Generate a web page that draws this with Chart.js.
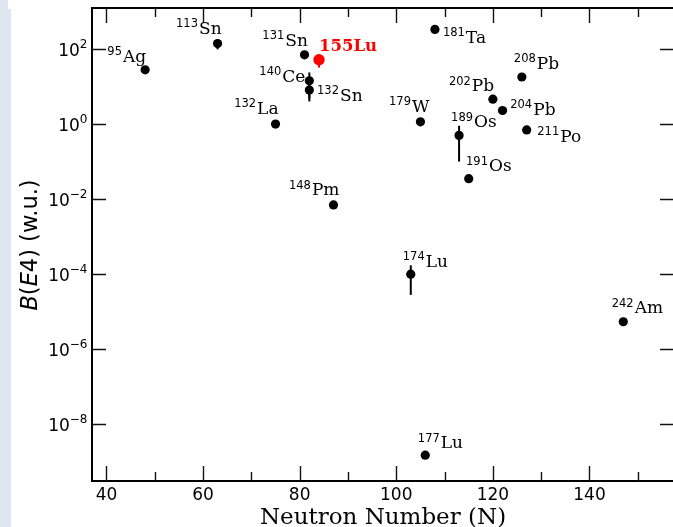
<!DOCTYPE html>
<html>
<head>
<meta charset="utf-8">
<script src="https://cdn.jsdelivr.net/npm/chart.js@4/dist/chart.umd.min.js"></script>
<style>
  html, body { margin: 0; padding: 0; background: #fff; overflow: hidden; }
  #wrap { position: relative; width: 680px; height: 527px; }
</style>
</head>
<body>
<div id="wrap"><canvas id="c" width="680" height="527" style="width:680px;height:527px"></canvas></div>
<script>
// B(E4) values (w.u.) vs neutron number
const neutrons    = [48, 63, 81, 82, 82, 75, 105, 108, 126, 120, 122, 127, 113, 115, 87, 103, 147, 106];
const massNumbers = [95, 113, 131, 140, 132, 132, 179, 181, 208, 202, 204, 211, 189, 191, 148, 174, 242, 177];
const elements    = ['Ag', 'Sn', 'Sn', 'Ce', 'Sn', 'La', 'W', 'Ta', 'Pb', 'Pb', 'Pb', 'Po', 'Os', 'Os', 'Pm', 'Lu', 'Am', 'Lu'];
const bE4         = [28, 140, 70, 14.3, 8.1, 1.0, 1.15, 333, 18, 4.6, 2.3, 0.70, 0.50, 0.035, 0.0070, 1.0e-4, 5.4e-6, 1.5e-9];
const bE4Err      = [0, 42, 0, 9.5, 4.1, 0, 0, 0, 0, 0, 0, 0, 0.4, 0, 0, 0.72e-4, 0, 0];

// this work
const newN     = [84];
const newB     = [52];
const newErr   = [20];
const newLabel = ['155Lu'];

const xMajorTicks = [40, 60, 80, 100, 120, 140];
const xMinorTicks = [50, 70, 90, 110, 130, 150];
const yTickExps   = [-8, -6, -4, -2, 0, 2];

// label placement: anchor side, x offset, baseline offset (px from the point)
const labelPos = [
  ['r', 1, -8], ['r', 4, -10], ['r', 3.4, -9], ['r', -4, 1], ['l', 7.7, 11],
  ['r', 3, -10], ['r', 9, -10], ['l', 8, 13.7], ['l', -8, -8], ['r', 1.3, -8],
  ['l', 7.7, 4.3], ['l', 10.6, 12.3], ['l', -8, -8], ['l', -2.7, -7.3], ['r', 6, -9.7],
  ['l', -8, -7.3], ['l', -11.6, -8.4], ['l', -7.4, -6.7]
];
const newLabelPos = [['l', 0, -9]];

const SANS = '"DejaVu Sans", sans-serif';
const SERIF = '"DejaVu Serif", serif';

const decor = {
    id: 'decor',
    beforeDraw(chart) {
        const ctx = chart.ctx;
        ctx.save();
        ctx.fillStyle = '#fff';
        ctx.fillRect(0, 0, chart.width, chart.height);
        ctx.fillStyle = '#dfe6ef';
        ctx.fillRect(0, 0, 8, 9);
        ctx.fillRect(0, 9, 11, chart.height - 9);
        ctx.restore();
    },
    beforeDatasetsDraw(chart) {
        const ctx = chart.ctx, x = chart.scales.x, y = chart.scales.y;
        ctx.save();
        ctx.lineWidth = 2;
        const bar = (n, v, e, col) => {
            if (!e) return;
            const px = x.getPixelForValue(n);
            ctx.strokeStyle = col;
            ctx.beginPath();
            ctx.moveTo(px, y.getPixelForValue(v + e));
            ctx.lineTo(px, y.getPixelForValue(Math.max(v - e, v * 1e-3)));
            ctx.stroke();
        };
        neutrons.forEach((n, i) => bar(n, bE4[i], bE4Err[i], '#000'));
        newN.forEach((n, i) => bar(n, newB[i], newErr[i], '#ff0000'));
        ctx.restore();
    },
    afterDatasetsDraw(chart) {
        const ctx = chart.ctx, x = chart.scales.x, y = chart.scales.y;
        const a = chart.chartArea;
        ctx.save();

        // frame
        ctx.strokeStyle = '#000';
        ctx.lineWidth = 2;
        ctx.strokeRect(a.left, a.top, a.right - a.left, a.bottom - a.top);

        // inward ticks
        ctx.lineWidth = 1.4;
        ctx.strokeStyle = '#111';
        ctx.beginPath();
        xMajorTicks.forEach(v => {
            const px = Math.round(x.getPixelForValue(v)) + 0.5;
            ctx.moveTo(px, a.bottom); ctx.lineTo(px, a.bottom - 15);
            ctx.moveTo(px, a.top); ctx.lineTo(px, a.top + 15);
        });
        xMinorTicks.forEach(v => {
            const px = Math.round(x.getPixelForValue(v)) + 0.5;
            ctx.moveTo(px, a.bottom); ctx.lineTo(px, a.bottom - 9);
            ctx.moveTo(px, a.top); ctx.lineTo(px, a.top + 9);
        });
        yTickExps.forEach(e => {
            const py = Math.round(y.getPixelForValue(Math.pow(10, e))) + 0.5;
            ctx.moveTo(a.left, py); ctx.lineTo(a.left + 14, py);
            ctx.moveTo(a.right, py); ctx.lineTo(a.right - 14, py);
        });
        ctx.stroke();

        // tick labels
        ctx.fillStyle = '#000';
        ctx.font = '17px ' + SANS;
        ctx.textAlign = 'center';
        ctx.textBaseline = 'alphabetic';
        xMajorTicks.forEach(v => ctx.fillText(String(v), x.getPixelForValue(v), a.bottom + 18.5));

        ctx.textAlign = 'left';
        yTickExps.forEach(e => {
            const py = y.getPixelForValue(Math.pow(10, e));
            const sup = e < 0 ? '\u2212' + (-e) : String(e);
            ctx.font = '12px ' + SANS;
            const sw = ctx.measureText(sup).width;
            ctx.font = '17px ' + SANS;
            const bw = ctx.measureText('10').width;
            const right = a.left - 4.5;
            ctx.fillText('10', right - sw - bw, py + 6.7);
            ctx.font = '12px ' + SANS;
            ctx.fillText(sup, right - sw, py - 1);
        });

        // point labels
        const label = (n, v, sup, el, pos, col, bold) => {
            const px = x.getPixelForValue(n), py = y.getPixelForValue(v);
            ctx.font = '11.5px ' + SANS;
            const sw = sup ? ctx.measureText(sup).width + 1 : 0;
            ctx.font = (bold ? 'bold 16.5px ' : '17px ') + SERIF;
            const ew = ctx.measureText(el).width;
            const start = pos[0] === 'r' ? px + pos[1] - sw - ew : px + pos[1];
            const base = py + pos[2];
            ctx.fillStyle = col;
            if (sup) {
                ctx.font = '11.5px ' + SANS;
                ctx.fillText(sup, start, base - 6.7);
            }
            ctx.font = (bold ? 'bold 16.5px ' : '17px ') + SERIF;
            ctx.fillText(el, start + sw, base);
        };
        neutrons.forEach((n, i) => label(n, bE4[i], String(massNumbers[i]), elements[i], labelPos[i], '#000', false));
        newN.forEach((n, i) => label(n, newB[i], '', newLabel[i], newLabelPos[i], '#ff0000', true));

        // axis titles
        ctx.fillStyle = '#000';
        ctx.font = '23px ' + SERIF;
        ctx.textAlign = 'center';
        ctx.fillText('Neutron Number (N)', 383, 524);

        ctx.translate(0, 245);
        ctx.rotate(-Math.PI / 2);
        ctx.textAlign = 'left';
        const parts = [['B', true], ['(', false], ['E', true], ['4) (w.u.)', false]];
        let tot = 0;
        parts.forEach(p => { ctx.font = (p[1] ? 'italic ' : '') + '22.5px ' + SANS; tot += ctx.measureText(p[0]).width; });
        let cx = -tot / 2;
        parts.forEach(p => {
            ctx.font = (p[1] ? 'italic ' : '') + '22.5px ' + SANS;
            ctx.fillText(p[0], cx, 36.5);
            cx += ctx.measureText(p[0]).width;
        });
        ctx.restore();
    }
};

new Chart(document.getElementById('c'), {
    type: 'scatter',
    data: {
        datasets: [
            {
                data: neutrons.map((n, i) => ({ x: n, y: bE4[i] })),
                backgroundColor: '#000', borderColor: '#000',
                pointRadius: 4.6, pointBorderWidth: 0, pointHoverRadius: 4.6
            },
            {
                data: newN.map((n, i) => ({ x: n, y: newB[i] })),
                backgroundColor: '#ff0000', borderColor: '#ff0000',
                pointRadius: 5.7, pointBorderWidth: 0, pointHoverRadius: 5.7
            }
        ]
    },
    options: {
        responsive: false,
        maintainAspectRatio: false,
        animation: false,
        devicePixelRatio: 1,
        events: [],
        layout: { padding: { left: 92, top: 8, right: 6, bottom: 46 } },
        plugins: { legend: { display: false }, tooltip: { enabled: false } },
        scales: {
            x: { type: 'linear', min: 37, max: 157.5, display: false },
            y: { type: 'logarithmic', min: 3.08e-10, max: 1240, display: false }
        }
    },
    plugins: [decor]
});
</script>
</body>
</html>
